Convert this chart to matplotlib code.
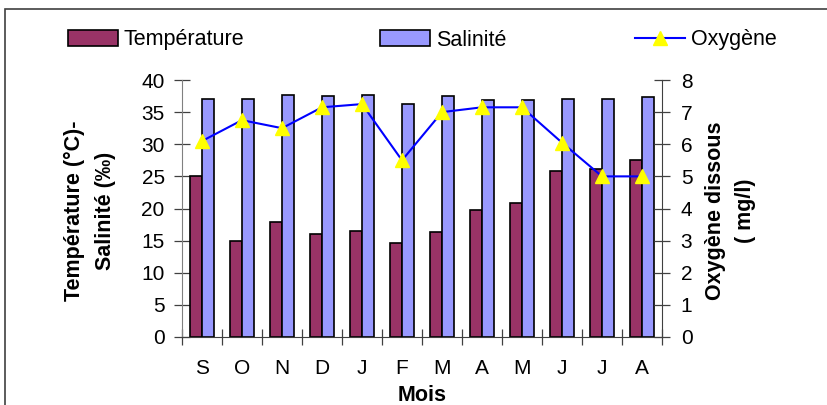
import matplotlib
matplotlib.use("Agg")
import matplotlib.pyplot as plt
from matplotlib.patches import Patch, Rectangle
from matplotlib.lines import Line2D
import numpy as np

plt.rcParams["font.family"] = ["Liberation Sans", "DejaVu Sans"]

# ===== DATA =====
mois = ["S", "O", "N", "D", "J", "F", "M", "A", "M", "J", "J", "A"]
temperature = [25.0, 14.9, 17.9, 16.0, 16.5, 14.6, 16.3, 19.8, 20.9, 25.9, 26.1, 27.5]
salinite = [37.1, 37.1, 37.7, 37.5, 37.7, 36.3, 37.5, 36.9, 36.9, 37.1, 37.1, 37.4]
oxygene = [6.1, 6.75, 6.5, 7.15, 7.25, 5.5, 7.0, 7.15, 7.15, 6.05, 5.0, 5.0]

C_TEMP = "#993366"
C_SAL = "#9999ff"
C_OXY = "#0000ff"
C_MARK = "#ffff00"
C_AXIS = "#404040"

fig = plt.figure(figsize=(8.28, 4.05), dpi=100, facecolor="white")
ax = fig.add_axes([182 / 828, 1 - 337 / 405, 480 / 828, 257 / 405])
ax2 = ax.twinx()

# cadre exterieur (seulement bords gauche / haut visibles)
fig.patches.append(Rectangle((5 / 828, -0.1), 1.2, 1.1 - 9 / 405,
                             transform=fig.transFigure, fill=False,
                             edgecolor=C_AXIS, linewidth=1.2))

x = np.arange(len(mois))
w = 0.29
ax.bar(x - w / 2, temperature, w, color=C_TEMP, edgecolor="black", linewidth=1.2, zorder=2)
ax.bar(x + w / 2, salinite, w, color=C_SAL, edgecolor="black", linewidth=1.2, zorder=2)

ax2.plot(x, oxygene, color=C_OXY, linewidth=1.5, marker="^", markersize=10,
         markerfacecolor=C_MARK, markeredgecolor=C_MARK, zorder=3)

ax.set_xlim(-0.5, len(mois) - 0.5)
ax.set_ylim(0, 40)
ax.set_yticks(range(0, 41, 5))
ax2.set_ylim(0, 8)
ax2.set_yticks(range(0, 9))

# graduations x entre les mois, libelles au centre
ax.set_xticks(np.arange(-0.5, len(mois), 1))
ax.set_xticklabels([])
ax.set_xticks(x, minor=True)
ax.set_xticklabels(mois, minor=True)
ax.tick_params(axis="x", which="major", direction="inout", length=11, width=0.9, color=C_AXIS)
ax.tick_params(axis="x", which="minor", length=0, pad=16, labelsize=15)
ax.tick_params(axis="y", direction="inout", length=11, width=0.9, color=C_AXIS, pad=7, labelsize=15)
ax2.tick_params(axis="y", direction="inout", length=11, width=0.9, color=C_AXIS, pad=8, labelsize=15)

for s in ["top", "right"]:
    ax.spines[s].set_visible(False)
for s in ["top", "left", "bottom"]:
    ax2.spines[s].set_visible(False)
ax.spines["left"].set_color("#808080")
ax.spines["bottom"].set_color(C_AXIS)
ax2.spines["right"].set_color(C_AXIS)

ax.set_xlabel("Mois", fontsize=15.5, fontweight="bold", labelpad=5)
ax.set_ylabel("Température (°C)-\nSalinité (‰)", fontsize=15.5, fontweight="bold",
              linespacing=1.6, va="center")
ax.yaxis.set_label_coords(-0.192, 0.49)
ax2.set_ylabel("Oxygène dissous\n( mg/l)", fontsize=15.5, fontweight="bold",
               linespacing=1.6, rotation=90, va="center")
ax2.yaxis.set_label_coords(1.143, 0.49)

# legende (3 entrees positionnees separement)
entries = [
    (Patch(facecolor=C_TEMP, edgecolor="black", linewidth=1.2), "Température", 68),
    (Patch(facecolor=C_SAL, edgecolor="black", linewidth=1.2), "Salinité", 380),
    (Line2D([], [], color=C_OXY, linewidth=1.5, marker="^", markersize=10,
            markerfacecolor=C_MARK, markeredgecolor=C_MARK), "Oxygène", 635),
]
for h, lab, px in entries:
    fig.legend([h], [lab], loc="center left", bbox_to_anchor=(px / 828, 1 - 40 / 405),
               frameon=False, fontsize=15.5, borderpad=0, borderaxespad=0,
               handlelength=2.3, handletextpad=0.3, handleheight=0.7)

fig.savefig("out.png", dpi=100, facecolor="white")
